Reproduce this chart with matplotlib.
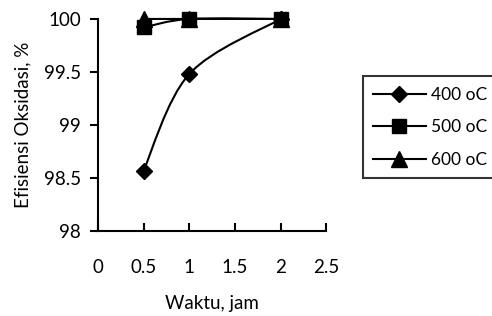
import matplotlib
matplotlib.use("Agg")
import matplotlib.pyplot as plt
from matplotlib.path import Path
from matplotlib.patches import PathPatch
from matplotlib.lines import Line2D
import numpy as np

plt.rcParams['font.family'] = ['Lato', 'DejaVu Sans']

waktu = [0.5, 1, 2]
eff_400 = [98.57, 99.48, 100.0]
eff_500 = [99.92, 100.0, 100.0]
eff_600 = [100.0, 100.0, 100.0]
labels = ['400 oC', '500 oC', '600 oC']
markers = ['D', 's', '^']
msizes = [8, 10, 11]


def smooth_path(x, y):
    # Excel-style smoothed line: cubic bezier segments (catmull-rom tangents)
    pts = np.column_stack([x, y]).astype(float)
    n = len(pts)
    verts = [pts[0]]
    codes = [Path.MOVETO]
    for i in range(n - 1):
        p0 = pts[i - 1] if i > 0 else pts[i]
        p1 = pts[i]
        p2 = pts[i + 1]
        p3 = pts[i + 2] if i + 2 < n else pts[i + 1]
        c1 = p1 + (p2 - p0) / 6.0
        c2 = p2 - (p3 - p1) / 6.0
        verts += [c1, c2, p2]
        codes += [Path.CURVE4] * 3
    return Path(verts, codes)


fs = 13.5
fig = plt.figure(figsize=(4.92, 3.16), dpi=100)
ax = fig.add_axes([0.199, 0.269, 0.464, 0.671])

handles = []
for ys, lab, m, ms in zip([eff_400, eff_500, eff_600], labels, markers, msizes):
    ax.add_patch(PathPatch(smooth_path(waktu, ys), fill=False, edgecolor='black',
                           lw=1.5, clip_on=False, zorder=2))
    ax.plot(waktu, ys, ls='none', marker=m, ms=ms, color='black', clip_on=False, zorder=3)
    handles.append(Line2D([], [], color='black', lw=1.5, marker=m, ms=ms, label=lab))

ax.set_xlim(0, 2.5)
ax.set_ylim(98, 100)
ax.set_xticks([0, 0.5, 1, 1.5, 2, 2.5])
ax.set_xticklabels(['0', '0.5', '1', '1.5', '2', '2.5'])
ax.set_yticks([98, 98.5, 99, 99.5, 100])
ax.set_yticklabels(['98', '98.5', '99', '99.5', '100'])
ax.spines['top'].set_visible(False)
ax.spines['right'].set_visible(False)
for s in ['left', 'bottom']:
    ax.spines[s].set_linewidth(1.5)
ax.tick_params(axis='x', direction='in', length=6, width=1.5, pad=20, labelsize=fs)
ax.tick_params(axis='y', direction='out', length=6, width=1.5, pad=6, labelsize=fs)
ax.set_xlabel('Waktu, jam', fontsize=fs, labelpad=14)
ax.set_ylabel('Efisiensi Oksidasi, %', fontsize=fs, labelpad=9)

leg = fig.legend(handles=handles, loc='lower left', bbox_to_anchor=(363 / 492, 1 - 178 / 316),
                 frameon=True, fancybox=False, fontsize=12.5, handlelength=3.0,
                 handletextpad=0.3, borderpad=0.6, labelspacing=0.95, borderaxespad=0)
leg.get_frame().set_edgecolor('black')
leg.get_frame().set_linewidth(1.5)

fig.savefig('out.png', dpi=100)
